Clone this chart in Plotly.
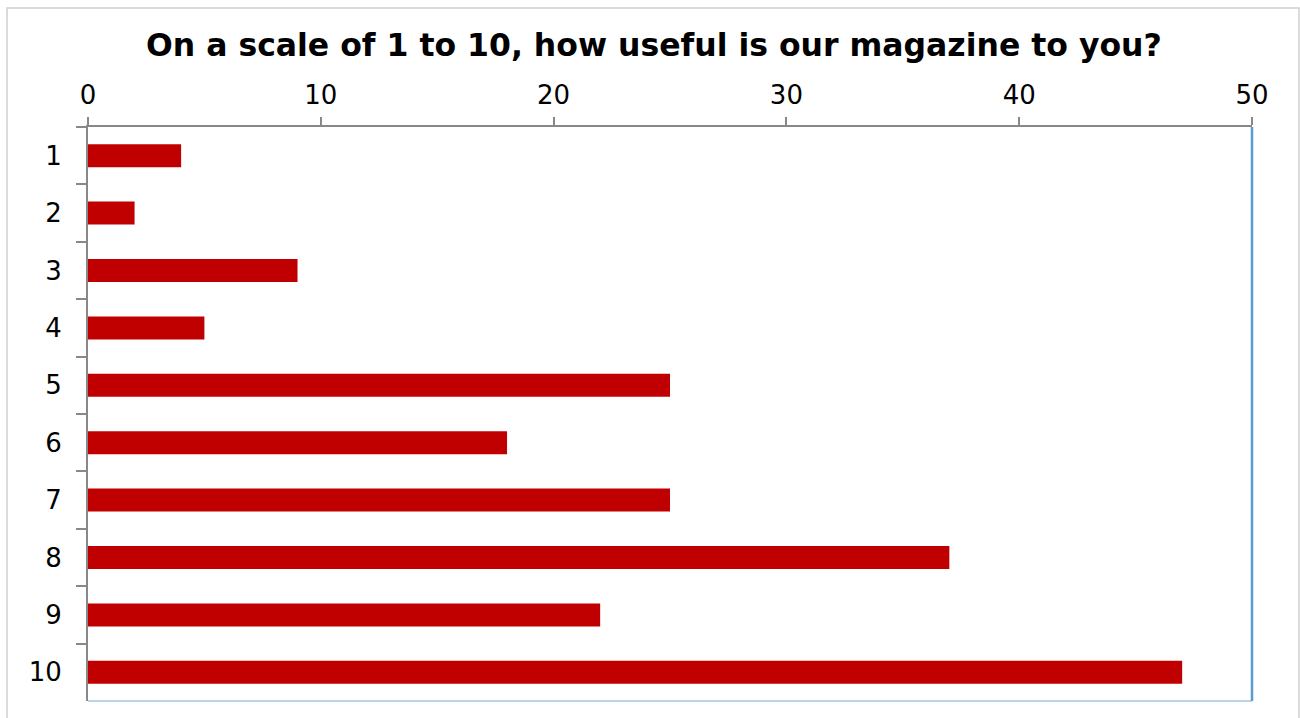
import plotly.graph_objects as go

categories = ["1", "2", "3", "4", "5", "6", "7", "8", "9", "10"]
values = [4, 2, 9, 5, 25, 18, 25, 37, 22, 47]
x_ticks = [0, 10, 20, 30, 40, 50]
title_text = "On a scale of 1 to 10, how useful is our magazine to you?"

W, H = 1300, 718
L, R, T, B = 88, 48, 127, 17

fig = go.Figure(go.Bar(
    x=values, y=categories, orientation="h",
    marker=dict(color="#C00000", line=dict(width=0)),
    width=0.4,
))

fig.update_layout(
    width=W, height=H,
    margin=dict(l=L, r=R, t=T, b=B, pad=0),
    paper_bgcolor="white", plot_bgcolor="white",
    showlegend=False,
    font=dict(family="DejaVu Sans, Liberation Sans, sans-serif", color="black"),
    title=dict(text="<b>" + title_text + "</b>", x=0.503, xanchor="center",
               y=1 - 45 / H, yanchor="middle",
               font=dict(size=31.5, color="black")),
    xaxis=dict(side="top", range=[0, 50], tickvals=x_ticks, showgrid=False,
               zeroline=False, showline=True, linecolor="#888888", linewidth=2,
               ticks="outside", ticklen=8, tickcolor="#888888", tickwidth=2,
               tickfont=dict(size=26), ticklabelstandoff=3),
    yaxis=dict(categoryorder="array", categoryarray=categories,
               autorange="reversed", showgrid=False, zeroline=False,
               showline=True, linecolor="#888888", linewidth=2,
               ticks="outside", ticklen=10, tickcolor="#888888", tickwidth=2,
               tickson="boundaries", tickfont=dict(size=26),
               ticklabelstandoff=19),
    shapes=[
        dict(type="line", xref="paper", yref="paper", x0=1, x1=1, y0=0, y1=1,
             line=dict(color="#5B9BD5", width=2.5)),
        dict(type="line", xref="paper", yref="paper", x0=0, x1=1, y0=0, y1=0,
             line=dict(color="#7FA7D0", width=1.2)),
        dict(type="rect", xref="paper", yref="paper",
             x0=(7 - L) / (W - L - R), x1=(1299 - L) / (W - L - R),
             y0=-(B + 5) / (H - T - B), y1=1 + (T - 8) / (H - T - B),
             line=dict(color="#D0D0D0", width=1.5), layer="below"),
    ],
)

fig.write_html("out.html", config={"displayModeBar": False},
               post_script="document.body.style.margin='0';")
